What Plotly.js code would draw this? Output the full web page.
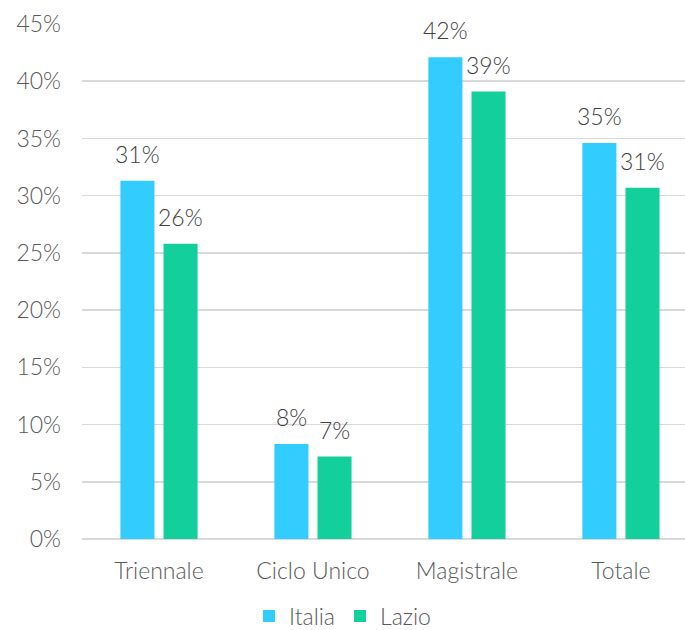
<!DOCTYPE html>
<html>
<head>
<meta charset="utf-8">
<script src="https://cdn.plot.ly/plotly-3.0.1.min.js"></script>
<style>html,body{margin:0;padding:0;background:#fff;}#chart{width:685px;height:630px;}</style>
</head>
<body>
<div id="chart"></div>
<script>
const categories = ["Triennale", "Ciclo Unico", "Magistrale", "Totale"];
const italia = [0.313, 0.083, 0.421, 0.346];
const lazio = [0.258, 0.072, 0.391, 0.307];
const seriesNames = ["Italia", "Lazio"];
const colors = ["#33ccff", "#12cf9b"];

const fam = "Lato, 'Open Sans', sans-serif";
const font = {family: fam, size: 23, color: "#595959", weight: 300};

const series = [italia, lazio];
const traces = series.map((vals, i) => ({
  type: "bar",
  name: seriesNames[i],
  x: categories,
  y: vals,
  marker: {color: colors[i]},
  hoverinfo: "skip"
}));

const bargap = 0.44;
const slot = (1 - bargap) / series.length;
const annotations = [];
series.forEach((vals, s) => {
  vals.forEach((v, c) => {
    annotations.push({
      x: c + (s - (series.length - 1) / 2) * slot,
      y: v, xref: "x", yref: "y",
      text: Math.round(v * 100) + "%",
      showarrow: false, yanchor: "bottom", yshift: 11,
      font: {family: fam, size: 23, color: "#404040", weight: 300}
    });
  });
});

const layout = {
  width: 685, height: 630,
  margin: {l: 82, r: 0, t: 24, b: 91, autoexpand: false},
  paper_bgcolor: "#fff", plot_bgcolor: "#fff",
  font: font,
  barmode: "group",
  bargap: bargap,
  bargroupgap: 0.21,
  showlegend: true,
  legend: {orientation: "h", x: 0.5, xref: "container", xanchor: "center", y: 0.022, yref: "container", yanchor: "middle",
           font: font, itemwidth: 30, tracegroupgap: 0},
  annotations: annotations,
  xaxis: {range: [-0.5, 3.416], showgrid: false, zeroline: false, showline: false, automargin: false,
          ticks: "", tickfont: font, ticklabelstandoff: 16},
  yaxis: {range: [0, 0.45], dtick: 0.05, tickformat: ".0%", showgrid: true, automargin: false,
          gridcolor: "#d9d9d9", gridwidth: 1.5, zeroline: true, zerolinecolor: "#d9d9d9",
          zerolinewidth: 1.5, showline: false, ticks: "", tickfont: font, ticklabelstandoff: 20}
};

Plotly.newPlot("chart", traces, layout, {staticPlot: true, displayModeBar: false});
</script>
</body>
</html>
